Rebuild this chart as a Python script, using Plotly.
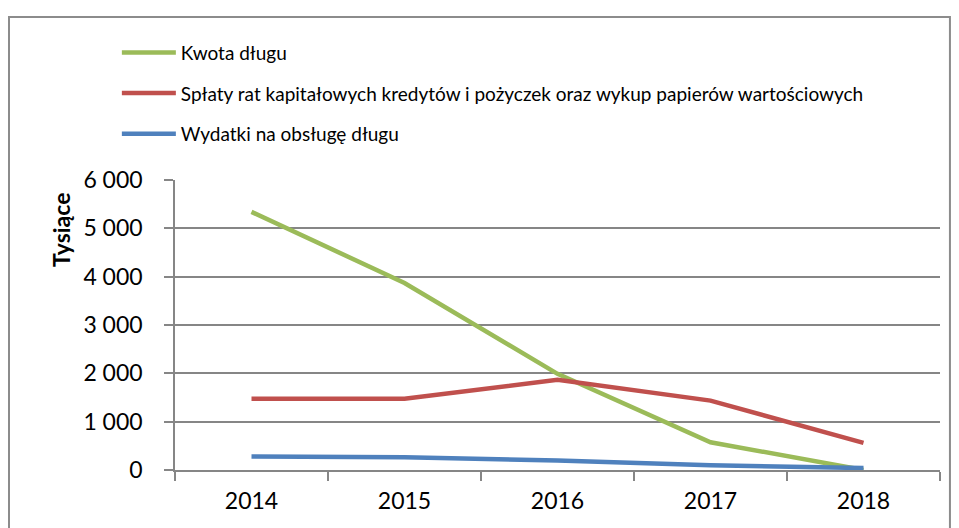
import plotly.graph_objects as go

years = ["2014", "2015", "2016", "2017", "2018"]
kwota_dlugu = [5340, 3870, 1990, 575, 0]
splaty_rat = [1475, 1475, 1865, 1435, 560]
wydatki_obsluga = [278, 265, 195, 98, 40]

series = [
    ("Kwota długu", kwota_dlugu, "#9BBB59"),
    ("Spłaty rat kapitałowych kredytów i pożyczek oraz wykup papierów wartościowych", splaty_rat, "#C0504D"),
    ("Wydatki na obsługę długu", wydatki_obsluga, "#4F81BD"),
]

FONT = "Lato, 'Open Sans', sans-serif"
GRID = "#868686"

fig = go.Figure()
for i, (name, vals, color) in enumerate(series):
    fig.add_trace(go.Scatter(
        x=years, y=vals, mode="lines", name=name,
        legendgroup=f"g{i}",
        line=dict(color=color, width=4.5),
    ))

# page body adds 8px offset, so margins are shifted to land the plot at 175..940 x 180..470
fig.update_layout(
    width=959, height=528,
    margin=dict(l=167, r=27, t=172, b=66),
    paper_bgcolor="white", plot_bgcolor="white",
    separators=", ",
    font=dict(family=FONT, color="#000000"),
    showlegend=True,
    legend=dict(
        x=-0.076, y=1.505, xanchor="left", yanchor="top",
        font=dict(size=19, family=FONT),
        tracegroupgap=13, itemwidth=54,
        bgcolor="rgba(0,0,0,0)",
    ),
    xaxis=dict(
        type="category", showgrid=False,
        showline=True, linecolor=GRID, linewidth=1.5,
        ticks="outside", tickson="boundaries", ticklen=9, tickcolor=GRID, tickwidth=1.5,
        tickfont=dict(size=23, family=FONT),
        ticklabelstandoff=10,
        range=[-0.5, 4.5],
    ),
    yaxis=dict(
        range=[0, 6000], dtick=1000, tickformat=",d",
        showgrid=True, gridcolor=GRID, gridwidth=1.5,
        showline=True, linecolor=GRID, linewidth=1.5,
        ticks="outside", ticklen=9, tickcolor=GRID, tickwidth=1.5,
        tickfont=dict(size=23, family=FONT),
        ticklabelstandoff=17,
        zeroline=False,
    ),
    annotations=[dict(
        text="<b>Tysiące</b>", textangle=-90,
        xref="paper", yref="paper", x=-0.148, y=0.83,
        xanchor="center", yanchor="middle",
        showarrow=False, font=dict(size=23, family=FONT),
    )],
    shapes=[dict(
        type="rect", xref="paper", yref="paper",
        x0=-0.217, x1=1.013, y0=-0.25, y1=1.562,
        line=dict(color="#8c8c8c", width=2),
    )],
)

fig.write_html("out.html")
